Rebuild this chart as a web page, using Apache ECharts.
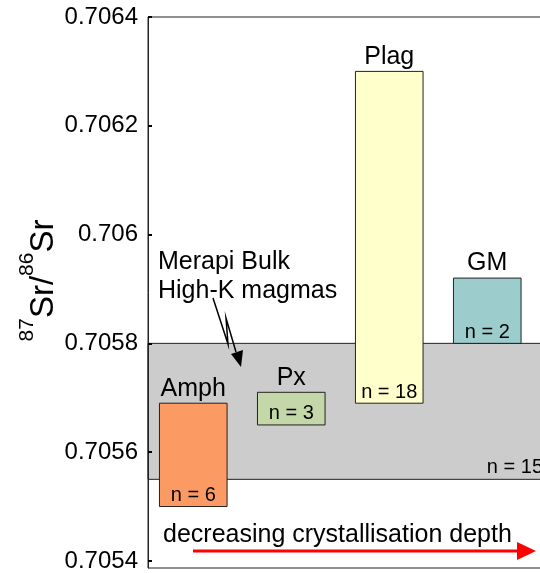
<!DOCTYPE html>
<html>
<head>
    <meta charset="utf-8">
    <title>Sr isotopes</title>
    <script src="https://cdn.jsdelivr.net/npm/echarts@6/dist/echarts.min.js"></script>
    <style>body{margin:0;}</style>
</head>
<body>
<div id="main" style="width: 540px;height:573px;"></div>
<script type="text/javascript">
    // data
    const minerals = ['Amph', 'Px', 'Plag', 'GM'];
    const lowVals = [0.70550, 0.70565, 0.70569, 0.70580];
    const highVals = [0.70569, 0.70571, 0.70630, 0.70592];
    const counts = [6, 3, 18, 2];
    const bulkRange = [0.70555, 0.70580];
    const bulkCount = 15;
    const yTicks = ['0.7054', '0.7056', '0.7058', '0.706', '0.7062', '0.7064'];

    const colors = ['#fb9a63', '#c4d7a8', '#ffffcc', '#9ccccc'];
    const FONT = '"Liberation Sans", Arial, sans-serif';
    const xMin = -0.462, xMax = 3.62;
    const barWidth = 0.69;

    const myChart = echarts.init(document.getElementById('main'));

    function renderBar(params, api) {
        const i = api.value(0);
        const lo = api.coord([i, api.value(1)]);
        const hi = api.coord([i, api.value(2)]);
        const w = api.size([barWidth, 0])[0];
        return {
            type: 'group',
            children: [
                {type: 'rect', shape: {x: lo[0] - w / 2, y: hi[1], width: w, height: lo[1] - hi[1]},
                    style: {fill: colors[i], stroke: '#222', lineWidth: 1}},
                {type: 'text', style: {text: minerals[i], x: hi[0], y: hi[1] - 2, align: 'center',
                        verticalAlign: 'bottom', font: '25px ' + FONT, fill: '#000'}},
                {type: 'text', style: {text: 'n = ' + counts[i], x: lo[0], y: lo[1] - 1, align: 'center',
                        verticalAlign: 'bottom', font: '20px ' + FONT, fill: '#000'}}
            ]
        };
    }

    function renderBand(params, api) {
        const cs = params.coordSys;
        const lo = api.coord([xMin, api.value(0)]);
        const hi = api.coord([xMin, api.value(1)]);
        return {
            type: 'group',
            children: [
                {type: 'rect', shape: {x: cs.x, y: hi[1], width: cs.width, height: lo[1] - hi[1]},
                    style: {fill: '#cccccc', stroke: '#222', lineWidth: 1}},
                {type: 'text', style: {text: 'n = ' + api.value(2), x: cs.x + cs.width - 5, y: lo[1] - 2,
                        align: 'right', verticalAlign: 'bottom', font: '20px ' + FONT, fill: '#000'}}
            ]
        };
    }

    const option = {
        animation: false,
        grid: {left: 148, top: 17, right: -8, bottom: 5, show: true, borderColor: '#222', borderWidth: 1,
            outerBoundsMode: 'none'},
        xAxis: {type: 'value', min: xMin, max: xMax, show: false},
        yAxis: {
            type: 'value', min: 0.705387, max: 0.7064, z: 10,
            name: '{sup|87}{base|Sr/}{sup|86}{base|Sr}',
            nameLocation: 'middle', nameRotate: 90, nameGap: 88, nameMoveOverlap: false,
            nameTextStyle: {
                padding: [0, 0, 0, 24],
                rich: {
                    base: {fontSize: 33, fontFamily: FONT, color: '#000', padding: [10, 0, 0, 0], verticalAlign: 'bottom'},
                    sup: {fontSize: 21, fontFamily: FONT, color: '#000', verticalAlign: 'top'}
                }
            },
            axisLine: {show: true, onZero: false, lineStyle: {color: '#222', width: 1}},
            axisTick: {show: true, inside: true, length: 4, customValues: yTicks.map(Number),
                lineStyle: {color: '#000', width: 2}},
            axisLabel: {customValues: yTicks.map(Number), margin: 10, fontSize: 24, fontFamily: FONT, color: '#000',
                formatter: v => String(+v.toFixed(4))},
            splitLine: {show: false}
        },
        series: [
            {type: 'custom', z: 1, renderItem: renderBand, data: [[bulkRange[0], bulkRange[1], bulkCount]]},
            {type: 'custom', z: 2, renderItem: renderBar,
                data: minerals.map((m, i) => [i, lowVals[i], highVals[i]])}
        ],
        graphic: [
            {type: 'text', z: 20, style: {text: 'Merapi Bulk\nHigh-K magmas', x: 158, y: 248, lineHeight: 29,
                    font: '25px ' + FONT, fill: '#000'}},
            {type: 'polyline', z: 20, shape: {points: [[213, 298], [228, 344], [226, 318], [236, 352]]},
                style: {stroke: '#000', lineWidth: 1.5, fill: null}},
            {type: 'polygon', z: 20, shape: {points: [[241, 367], [243, 350], [231, 354]]}, style: {fill: '#000'}},
            {type: 'text', z: 20, style: {text: 'decreasing crystallisation depth', x: 163, y: 548,
                    verticalAlign: 'bottom', font: '25px ' + FONT, fill: '#000'}},
            {type: 'line', z: 20, shape: {x1: 193, y1: 551, x2: 520, y2: 551}, style: {stroke: '#ff0000', lineWidth: 3}},
            {type: 'polygon', z: 20, shape: {points: [[517, 542], [536, 551], [517, 560]]}, style: {fill: '#ff0000'}}
        ]
    };

    myChart.setOption(option);
</script>
</body>
</html>
